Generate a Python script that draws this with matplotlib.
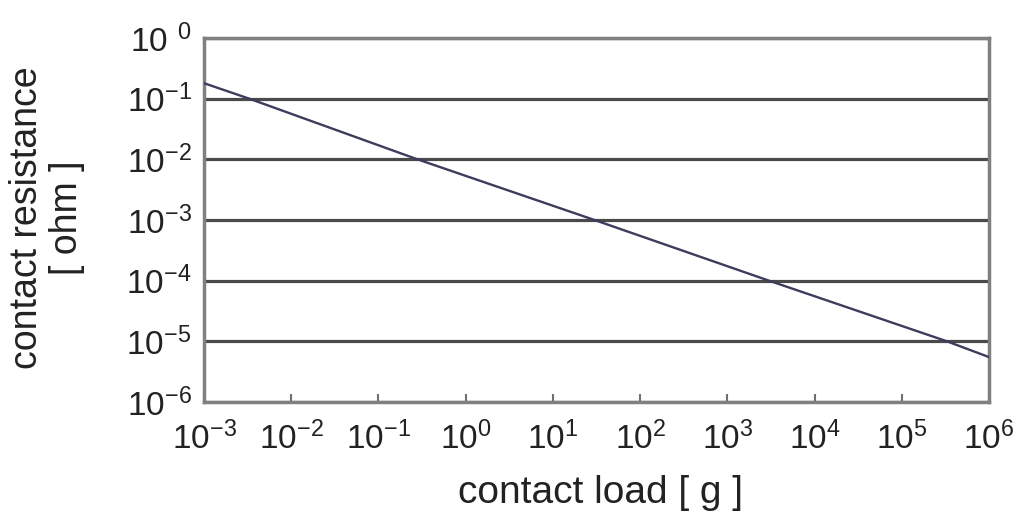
import matplotlib
matplotlib.use("Agg")
import matplotlib.pyplot as plt

# values (log-log, straight line)
contact_load_g = [1e-3, 3.3e-3, 2.8e-1, 3e1, 3e3, 3.3e5, 1e6]
contact_resistance_ohm = [0.18, 1e-1, 1e-2, 1e-3, 1e-4, 1e-5, 5.5e-6]

x_ticks = [1e-3, 1e-2, 1e-1, 1e0, 1e1, 1e2, 1e3, 1e4, 1e5, 1e6]
x_tick_labels = [r"$10^{-3}$", r"$10^{-2}$", r"$10^{-1}$", r"$10^{0}$", r"$10^{1}$",
                 r"$10^{2}$", r"$10^{3}$", r"$10^{4}$", r"$10^{5}$", r"$10^{6}$"]
y_ticks = [1e-6, 1e-5, 1e-4, 1e-3, 1e-2, 1e-1, 1e0]
y_tick_labels = [r"$10^{-6}$", r"$10^{-5}$", r"$10^{-4}$", r"$10^{-3}$",
                 r"$10^{-2}$", r"$10^{-1}$", r"$10^{\enspace 0}$"]

plt.rcParams["font.family"] = ["Liberation Sans", "DejaVu Sans"]
plt.rcParams["mathtext.fontset"] = "custom"
plt.rcParams["mathtext.rm"] = "Liberation Sans"
plt.rcParams["mathtext.it"] = "Liberation Sans:italic"
plt.rcParams["mathtext.bf"] = "Liberation Sans:bold"
plt.rcParams["mathtext.default"] = "rm"

W, H = 1017, 511
fig = plt.figure(figsize=(W / 100, H / 100), dpi=100)
ax = fig.add_axes([204 / W, 1 - 402 / H, (989 - 204) / W, (402 - 38) / H])

ax.plot(contact_load_g, contact_resistance_ohm, color="#3c3c5c", linewidth=1.7, zorder=3)

ax.set_xscale("log")
ax.set_yscale("log")
ax.set_xlim(1e-3, 1e6)
ax.set_ylim(1e-6, 1e0)

ax.set_xticks(x_ticks)
ax.set_xticklabels(x_tick_labels)
ax.set_yticks(y_ticks)
ax.set_yticklabels(y_tick_labels)
ax.minorticks_off()

ax.tick_params(axis="x", direction="in", length=6, width=1.5, color="#707070",
               labelsize=24, pad=14, labelcolor="#222222")
ax.tick_params(axis="y", length=0, labelsize=24, pad=9, labelcolor="#222222")

# horizontal lines at each decade
ax.yaxis.grid(True, color="#4a4a4a", linewidth=2.3)
ax.xaxis.grid(False)
ax.set_axisbelow(True)

for s in ax.spines.values():
    s.set_color("#808080")
    s.set_linewidth(2.5)

fig.text(601 / W, 1 - 503 / H, "contact load [ g ]", ha="center", va="baseline",
         fontsize=28, color="#222222")
fig.text(47 / W, 1 - 218 / H, "contact resistance\n[ ohm ]", rotation=90,
         ha="center", va="center", multialignment="center", fontsize=27,
         linespacing=1.15, color="#222222")

fig.savefig("out.png", dpi=100)
